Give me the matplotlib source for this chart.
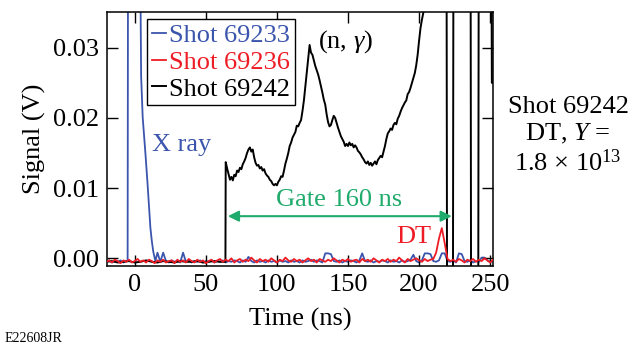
import numpy as np
import matplotlib
matplotlib.use("Agg")
import matplotlib.pyplot as plt

plt.rcParams['font.family'] = ['Liberation Serif', 'DejaVu Serif']
plt.rcParams['mathtext.fontset'] = 'custom'
plt.rcParams['mathtext.rm'] = 'Liberation Serif'
plt.rcParams['mathtext.it'] = 'Liberation Serif:italic'

# ---- data ----
# Shot 69242 (black): baseline, 1-ns samples of the (n, gamma) signal, saturated tail
black_base_t = [-20, -16, -12, -8, -4, 0, 4, 8, 12, 16, 20, 24, 28, 32, 36, 40, 44, 48, 52, 56, 60, 63.8]
black_base_v = [-0.0005, -0.0004, -0.0006, -0.0005, -0.0004, -0.0006, -0.0005, -0.0003, -0.0005, -0.0006,
                -0.0004, -0.0005, -0.0006, -0.0004, -0.0005, -0.0005, -0.0004, -0.0006, -0.0005, -0.0004,
                -0.0005, -0.0005]
black_sig_t = np.arange(64, 204, 1)
black_sig_v = [0.0137, 0.0128, 0.0120, 0.0112, 0.0116, 0.0111, 0.0119, 0.0117, 0.0125, 0.0123,   # 64-73
               0.0129, 0.0127, 0.0134, 0.0138, 0.0143, 0.0150, 0.0155, 0.0158, 0.0152, 0.0155,   # 74-83
               0.0144, 0.0136, 0.0132, 0.0133, 0.0128, 0.0130, 0.0125, 0.0127, 0.0121, 0.0118,   # 84-93
               0.0116, 0.0112, 0.0110, 0.0106, 0.0104, 0.0106, 0.0104, 0.0109, 0.0112, 0.0117,   # 94-103
               0.0116, 0.0125, 0.0135, 0.0142, 0.0150, 0.0160, 0.0165, 0.0172, 0.0176, 0.0180,   # 104-113
               0.0189, 0.0188, 0.0193, 0.0197, 0.0210, 0.0225, 0.0245, 0.0265, 0.0285, 0.0304,   # 114-123
               0.0293, 0.0290, 0.0282, 0.0274, 0.0268, 0.0262, 0.0254, 0.0245, 0.0236, 0.0226,   # 124-133
               0.0219, 0.0205, 0.0194, 0.0188, 0.0190, 0.0197, 0.0203, 0.0200, 0.0193, 0.0186,   # 134-143
               0.0180, 0.0174, 0.0170, 0.0166, 0.0160, 0.0163, 0.0160, 0.0165, 0.0161, 0.0163,   # 144-153
               0.0158, 0.0161, 0.0158, 0.0153, 0.0151, 0.0148, 0.0144, 0.0141, 0.0137, 0.0135,   # 154-163
               0.0138, 0.0133, 0.0136, 0.0132, 0.0135, 0.0138, 0.0134, 0.0140, 0.0143, 0.0146,   # 164-173
               0.0144, 0.0152, 0.0160, 0.0170, 0.0178, 0.0181, 0.0185, 0.0183, 0.0190, 0.0193,   # 174-183
               0.0191, 0.0199, 0.0203, 0.0209, 0.0214, 0.0218, 0.0222, 0.0225, 0.0234, 0.0237,   # 184-193
               0.0243, 0.0250, 0.0257, 0.0264, 0.0275, 0.0290, 0.0310, 0.0328, 0.0340, 0.0350]   # 194-203
black_sat_t = [205, 219.3, 219.7, 223.8, 224.2, 236.2, 236.6, 241.6, 242, 250.8, 251.2, 252]
black_sat_v = [0.05, 0.05, -0.01, -0.01, 0.05, 0.05, -0.01, -0.01, 0.05, 0.05, 0.025, 0.025]

# Shot 69236 (red), sampled every 2 ns from -20 to 252 ns
red_t = np.arange(-20, 253, 2)
red_v = [-0.0005, -0.0003, -0.0006, -0.0002, -0.0004, -0.0007, -0.0003, -0.0005, -0.0002, -0.0006,
         -0.0004, -0.0001, -0.0005, -0.0003, -0.0006, -0.0002, -0.0004, -0.0007, -0.0003, -0.0005,
         -0.0002, -0.0006, -0.0004, -0.0003, -0.0007, -0.0002, -0.0005, -0.0003, -0.0006, -0.0001,
         -0.0004, -0.0006, -0.0002, -0.0005, -0.0003, -0.0007, -0.0004, -0.0002, -0.0006, -0.0003,
         -0.0001, -0.0005, -0.0002, -0.0004, 0.0000, -0.0006, -0.0003, -0.0001, -0.0005, -0.0002,
         -0.0004, 0.0001, -0.0003, -0.0006, -0.0001, -0.0004, -0.0002, -0.0005, 0.0000, -0.0003,
         -0.0006, -0.0002, -0.0004, 0.0001, -0.0003, -0.0005, -0.0001, -0.0004, -0.0002, -0.0006,
         -0.0003, 0.0000, -0.0004, -0.0002, -0.0006, -0.0001, -0.0003, -0.0005, -0.0002, -0.0004,
         0.0000, -0.0003, -0.0006, -0.0002, -0.0004, -0.0001, -0.0005, -0.0003, -0.0002, -0.0006,
         -0.0001, -0.0004, -0.0002, -0.0005, 0.0000, -0.0003, -0.0006, -0.0002, -0.0004, -0.0001,
         -0.0005, -0.0002, -0.0004, 0.0001, -0.0003, -0.0006, -0.0001, -0.0004, -0.0002, 0.0000,
         -0.0003, -0.0005, -0.0001, -0.0004, -0.0002, -0.0001, 0.0008, 0.0028, 0.0043, 0.0022,
         -0.0001, -0.0004, -0.0002, -0.0005, -0.0001, -0.0003, -0.0006, -0.0002, -0.0004, -0.0001,
         -0.0005, -0.0002, -0.0004, 0.0000, -0.0003, -0.0006, -0.0002]

# Shot 69233 (blue): baseline before x-ray, x-ray peak, then 2-ns samples from 16 ns
blue_pre_t = [-20, -18, -16, -14, -12, -10, -8, -6]
blue_pre_v = [-0.0005, -0.0003, -0.0006, -0.0004, -0.0005, -0.0003, -0.0006, -0.0004]
xray_t = [-5, -4.6, 3.2, 4.5, 5.6, 7.5, 9, 11, 12, 13, 14.5]
xray_v = [-0.0004, 0.06, 0.06, 0.026, 0.0201, 0.015, 0.0107, 0.0044, 0.0025, 0.001, -0.0004]
blue_tail_t = np.arange(16, 253, 2)
blue_tail_v = [0.0008, -0.0005, 0.0008, -0.0004, -0.0006, -0.0003, -0.0005, -0.0004, -0.0006, 0.0008,
               -0.0005, -0.0003, -0.0006, -0.0004, -0.0005, -0.0003, -0.0006, -0.0004, -0.0005, -0.0003,
               -0.0006, -0.0004, -0.0005, -0.0003, -0.0006, -0.0004, -0.0005, -0.0003, -0.0004, -0.0006,
               -0.0003, -0.0005, 0.0002, -0.0004, -0.0006, -0.0003, -0.0005, -0.0004, -0.0006, -0.0003,
               -0.0005, -0.0004, -0.0006, -0.0003, -0.0005, -0.0004, -0.0006, -0.0003, -0.0005, -0.0004,
               -0.0006, -0.0003, -0.0005, -0.0004, -0.0002, -0.0005, -0.0003, -0.0004, -0.0006, 0.0007,
               0.0007, 0.0006, -0.0004, -0.0005, -0.0003, -0.0006, -0.0004, -0.0005, -0.0003, -0.0004,
               -0.0006, -0.0003, 0.0007, -0.0004, -0.0005, -0.0003, -0.0006, -0.0004, -0.0005, -0.0003,
               -0.0004, -0.0006, -0.0003, -0.0005, -0.0004, -0.0006, -0.0003, -0.0005, -0.0004, -0.0002,
               0.0005, -0.0004, -0.0006, -0.0003, 0.0007, 0.0007, 0.0006, -0.0004, -0.0005, -0.0003,
               0.0007, 0.0007, -0.0004, -0.0005, -0.0003, -0.0006, 0.0007, 0.0006, -0.0004, -0.0005,
               -0.0003, -0.0006, -0.0004, -0.0005, 0.0001, 0.0001, -0.0003, -0.0005, -0.0004]

labels = ["Shot 69233", "Shot 69236", "Shot 69242"]
xticks = [0, 50, 100, 150, 200, 250]
yticks = [0.00, 0.01, 0.02, 0.03]

BLUE = '#3b55ad'
RED = '#ee1c24'
BLACK = '#000000'
GREEN = '#1fab6b'
FS = 19

black_t = np.concatenate([black_base_t, black_sig_t, black_sat_t])
black_v = np.concatenate([black_base_v, black_sig_v, black_sat_v])
blue_t = np.concatenate([blue_pre_t, xray_t, blue_tail_t])
blue_v = np.concatenate([blue_pre_v, xray_v, blue_tail_v])

fig = plt.figure(figsize=(6.41, 3.46), dpi=100)
ax = fig.add_axes([107/641, 1-266/346, (493-107)/641, (266-12)/346])

lb, = ax.plot(blue_t, blue_v, color=BLUE, lw=1.3, zorder=1, label=labels[0])
lr, = ax.plot(red_t, red_v, color=RED, lw=1.3, zorder=3, label=labels[1])
lk, = ax.plot(black_t, black_v, color=BLACK, lw=1.4, zorder=2, label=labels[2])

ax.set_xlim(-19.5, 252)
ax.set_ylim(-0.0011, 0.0351)
ax.set_xticks(xticks)
ax.set_yticks(yticks)
ax.set_yticklabels([f"{v:.2f}" for v in yticks])
ax.tick_params(direction='in', length=8, width=1, top=True, right=True, labelsize=FS, pad=6)
for s in ax.spines.values():
    s.set_linewidth(1.1)

ax.set_xlabel("Time (ns)", fontsize=FS, labelpad=8)
ax.set_ylabel("Signal (V)", fontsize=FS, labelpad=5)

leg = ax.legend(handles=[lb, lr, lk], loc='upper left', bbox_to_anchor=(0.103, 0.972),
                fontsize=FS, handlelength=0.55, handletextpad=0.12, borderpad=0.18,
                labelspacing=0.12, borderaxespad=0, fancybox=False, framealpha=1,
                edgecolor='black')
leg.get_frame().set_linewidth(1.0)
for txt, c in zip(leg.get_texts(), [BLUE, RED, BLACK]):
    txt.set_color(c)

ax.text(12.5, 0.0162, "X ray", color=BLUE, fontsize=FS, va='center', ha='left')
ax.text(129, 0.0309, r"(n, $\gamma$)", color=BLACK, fontsize=FS, va='center', ha='left')
ax.text(144, 0.0083, "Gate 160 ns", color=GREEN, fontsize=FS, va='center', ha='center')
ax.text(208.5, 0.0030, "DT", color=RED, fontsize=FS, va='center', ha='right')
ax.annotate("", xy=(223, 0.0060), xytext=(65.5, 0.0060),
            arrowprops=dict(arrowstyle='<|-|>', color=GREEN, lw=1.5,
                            mutation_scale=16, shrinkA=0, shrinkB=0))

fig.text(568/641, 1-136/346, "Shot 69242\nDT, $Y$ =\n1.8 \u00d7 10$^{13}$",
         ha='center', va='center', fontsize=FS, linespacing=1.2)
fig.text(5/641, 1-338/346, "E22608JR", fontsize=10, ha='left', va='center')

fig.savefig("out.png", dpi=100)
